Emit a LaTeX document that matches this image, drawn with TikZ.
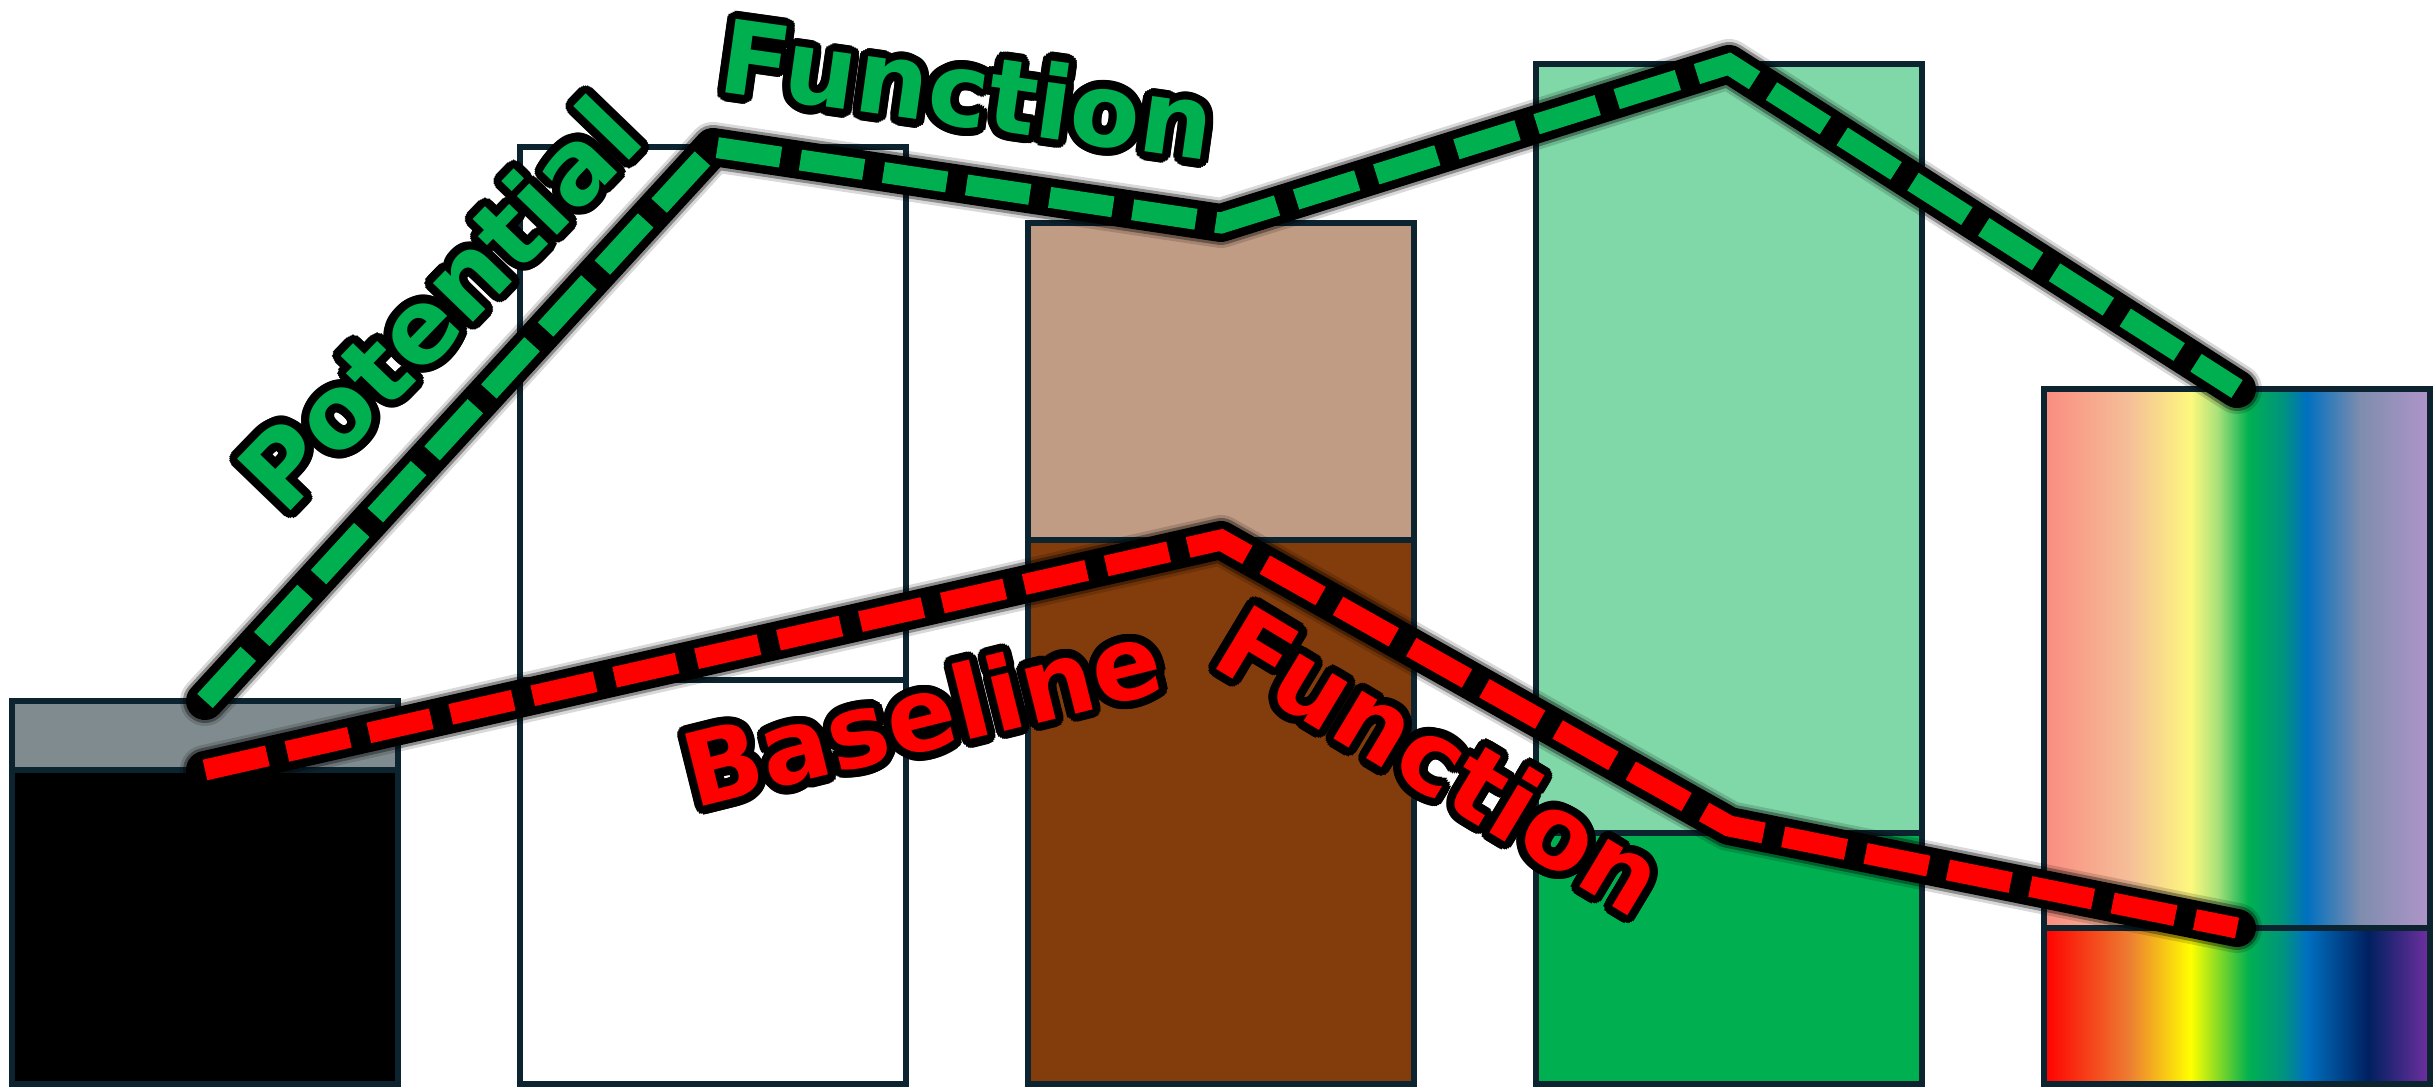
\documentclass[tikz,border=0pt]{standalone}
\usepackage{fontspec}
\setmainfont{DejaVu Sans}
\usepackage{contour}
\contourlength{2.4pt}
\contournumber{24}
\usetikzlibrary{calc,positioning}

\definecolor{edge}{HTML}{0B2430}
\definecolor{slate}{HTML}{7F8B8E}
\definecolor{tan}{HTML}{C19C85}
\definecolor{soil}{HTML}{833C0B}
\definecolor{mint}{HTML}{80D7A8}
\definecolor{pfgreen}{HTML}{00B050}
\definecolor{bfred}{HTML}{FF0000}
% rainbow stops
\definecolor{rbA}{HTML}{FF0000}
\definecolor{rbB}{HTML}{ED7D31}
\definecolor{rbC}{HTML}{FFFF00}
\definecolor{rbD}{HTML}{00B050}
\definecolor{rbE}{HTML}{00937F}
\definecolor{rbF}{HTML}{0070C0}
\definecolor{rbG}{HTML}{002060}
\definecolor{rbH}{HTML}{7030A0}
\definecolor{paA}{HTML}{FA8C80}
\definecolor{paB}{HTML}{F5BE98}
\definecolor{paC}{HTML}{FDF87E}
\definecolor{paD}{HTML}{A8E07A}
\definecolor{paE}{HTML}{7F8DAE}
\definecolor{paF}{HTML}{B095CA}

\pgfdeclarehorizontalshading{rainbowlow}{100bp}{color(0bp)=(rbA); color(25bp)=(rbA); color(36bp)=(rbB); color(44bp)=(rbC); color(51.5bp)=(rbD); color(56bp)=(rbE); color(59bp)=(rbF); color(67bp)=(rbG); color(75bp)=(rbH); color(100bp)=(rbH)}
\pgfdeclarehorizontalshading{rainbowup}{100bp}{color(0bp)=(paA); color(25bp)=(paA); color(36bp)=(paB); color(44bp)=(paC); color(47.5bp)=(paD); color(51.5bp)=(rbD); color(56bp)=(rbE); color(59bp)=(rbF); color(66bp)=(paE); color(75bp)=(paF); color(100bp)=(paF)}

\tikzset{
  barbox/.style={draw=edge, line width=0.06cm, inner sep=0pt, outer sep=0pt, minimum width=3.86cm},
  glowcore/.style={black, line width=0.38cm, line join=round, line cap=round},
  glowmid/.style={black, opacity=0.35, line width=0.44cm, line join=round, line cap=round},
  glowwide/.style={black, opacity=0.15, line width=0.50cm, line join=round, line cap=round},
  dashline/.style={line width=0.21cm, dash pattern=on 0.64cm off 0.2cm},
  curvelabel/.style={font=\bfseries\fontsize{29}{32}\selectfont, inner sep=0pt},
}

\begin{document}
\begin{tikzpicture}
    \useasboundingbox (0,0) rectangle (24.33,10.88);

    % bars
    \node[barbox, fill=black, minimum height=3.14cm, anchor=south] at (2.05,0.04) (Bar1low) {};
    \node[barbox, fill=slate, minimum height=0.69cm, above=0pt of Bar1low] (Bar1up) {};

    \node[barbox, fill=white, minimum height=4.04cm, anchor=south] at (7.13,0.04) (Bar2low) {};
    \node[barbox, fill=white, minimum height=5.33cm, above=0pt of Bar2low] (Bar2up) {};

    \node[barbox, fill=soil, minimum height=5.44cm, anchor=south] at (12.21,0.04) (Bar3low) {};
    \node[barbox, fill=tan, minimum height=3.17cm, above=0pt of Bar3low] (Bar3up) {};

    \node[barbox, fill=pfgreen, minimum height=2.51cm, anchor=south] at (17.29,0.04) (Bar4low) {};
    \node[barbox, fill=mint, minimum height=7.69cm, above=0pt of Bar4low] (Bar4up) {};

    \node[barbox, shading=rainbowlow, minimum height=1.56cm, anchor=south] at (22.37,0.04) (Bar5low) {};
    \node[barbox, shading=rainbowup, minimum height=5.39cm, above=0pt of Bar5low] (Bar5up) {};

    \coordinate (Knee) at ($(Bar4low.north)+(0,0.07)$);

    % potential function
    \draw[glowwide] (Bar1up.north) -- (Bar2up.north) -- (Bar3up.north) -- (Bar4up.north) -- (Bar5up.north);
    \draw[glowmid] (Bar1up.north) -- (Bar2up.north) -- (Bar3up.north) -- (Bar4up.north) -- (Bar5up.north);
    \draw[glowcore] (Bar1up.north) -- (Bar2up.north) -- (Bar3up.north) -- (Bar4up.north) -- (Bar5up.north);
    \draw[dashline, pfgreen] (Bar1up.north) -- (Bar2up.north) -- (Bar3up.north) -- (Bar4up.north) -- (Bar5up.north);

    % baseline function
    \draw[glowwide] (Bar1low.north) -- (Bar3low.north) -- (Knee) -- (Bar5low.north);
    \draw[glowmid] (Bar1low.north) -- (Bar3low.north) -- (Knee) -- (Bar5low.north);
    \draw[glowcore] (Bar1low.north) -- (Bar3low.north) -- (Knee) -- (Bar5low.north);
    \draw[dashline, bfred] (Bar1low.north) -- (Bar3low.north) -- (Knee) -- (Bar5low.north);

    \node[curvelabel, text=pfgreen, rotate=46] at (4.42,7.82) (PotWord) {\contour{black}{Potential}};
    \node[curvelabel, text=pfgreen, rotate=-8] at (9.67,9.95) (PotFunc) {\contour{black}{Function}};
    \node[curvelabel, text=bfred, rotate=14] at (9.23,3.71) (BaseWord) {\contour{black}{Baseline}};
    \node[curvelabel, text=bfred, rotate=-31] at (14.39,3.25) (BaseFunc) {\contour{black}{Function}};
\end{tikzpicture}
\end{document}
